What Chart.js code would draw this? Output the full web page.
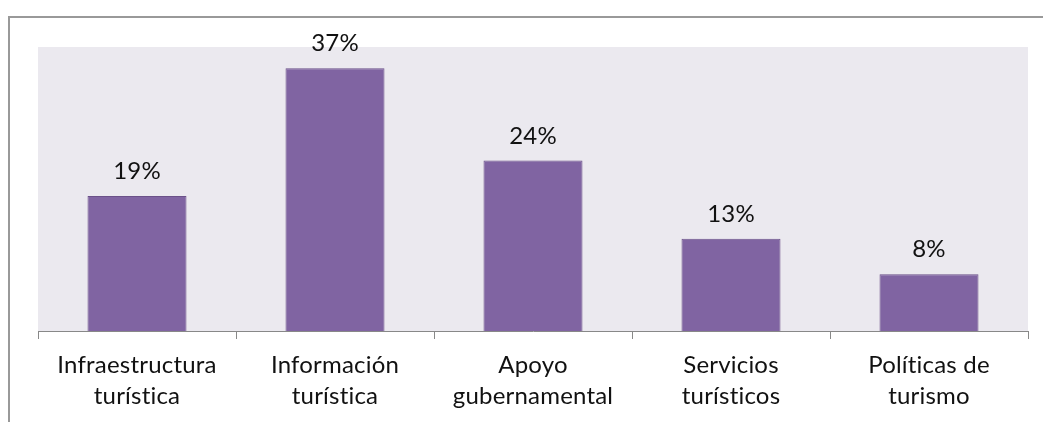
<!DOCTYPE html>
<html>
<head>
<meta charset="utf-8">
<script src="https://cdn.jsdelivr.net/npm/chart.js@4/dist/chart.umd.min.js"></script>
<style>
  html, body { margin: 0; padding: 0; background: #fff; }
  #wrap { position: relative; width: 1043px; height: 422px; }
  #frame {
    position: absolute; left: 8px; top: 16px; right: -5px; bottom: -5px;
    border-top: 2px solid #999; border-left: 2px solid #999;
  }
  canvas { position: absolute; left: 0; top: 0; }
</style>
</head>
<body>
<div id="wrap">
  <div id="frame"></div>
  <canvas id="myChart" width="1043" height="422"></canvas>
</div>
<script>
const categories = [
  ["Infraestructura", "turística"],
  ["Información", "turística"],
  ["Apoyo", "gubernamental"],
  ["Servicios", "turísticos"],
  ["Políticas de", "turismo"]
];
const values = [19, 37, 24, 13, 8];
const valueLabels = ["19%", "37%", "24%", "13%", "8%"];

const FONT = "Lato, sans-serif";

// fills the plot area with the light lavender background
// (also a tiny letter spacing so "tí" is not drawn as a ligature)
const plotBackground = {
  id: "plotBackground",
  beforeDraw(chart) {
    const { ctx, chartArea } = chart;
    ctx.letterSpacing = "0.2px";
    ctx.save();
    ctx.fillStyle = "#EBE9EF";
    ctx.fillRect(chartArea.left, chartArea.top, chartArea.right - chartArea.left, chartArea.bottom - chartArea.top);
    ctx.restore();
  }
};

// percentage text above each bar
const valueText = {
  id: "valueText",
  afterDatasetsDraw(chart) {
    const { ctx } = chart;
    const meta = chart.getDatasetMeta(0);
    ctx.save();
    ctx.fillStyle = "#111";
    ctx.font = "24px " + FONT;
    ctx.textAlign = "center";
    ctx.textBaseline = "alphabetic";
    meta.data.forEach((bar, i) => {
      ctx.fillText(valueLabels[i], bar.x, bar.y - 17);
    });
    ctx.restore();
  }
};

function buildChart() {
  const config = {
    type: "bar",
    data: {
      labels: categories,
      datasets: [
        {
          data: values,
          backgroundColor: "#8064A2",
          borderColor: "#6B5189",
          borderWidth: 1,
          categoryPercentage: 0.5,
          barPercentage: 1.0
        }
      ]
    },
    options: {
      responsive: false,
      animation: false,
      layout: { padding: { left: 38, right: 15, top: 47, bottom: 0 } },
      plugins: {
        legend: { display: false },
        tooltip: { enabled: false }
      },
      scales: {
        y: {
          display: false,
          min: 0,
          max: 40
        },
        x: {
          afterFit(scale) { scale.height = 91; },
          border: { color: "#888", width: 1 },
          grid: {
            offset: true,
            drawOnChartArea: false,
            drawTicks: true,
            tickLength: 8,
            color: "#888"
          },
          ticks: {
            color: "#111",
            font: { family: FONT, size: 24, lineHeight: 1.32 },
            padding: 10,
            maxRotation: 0
          }
        }
      }
    },
    plugins: [plotBackground, valueText]
  };

  const ctx = document.getElementById("myChart").getContext("2d");
  return new Chart(ctx, config);
}

buildChart();
</script>
</body>
</html>
